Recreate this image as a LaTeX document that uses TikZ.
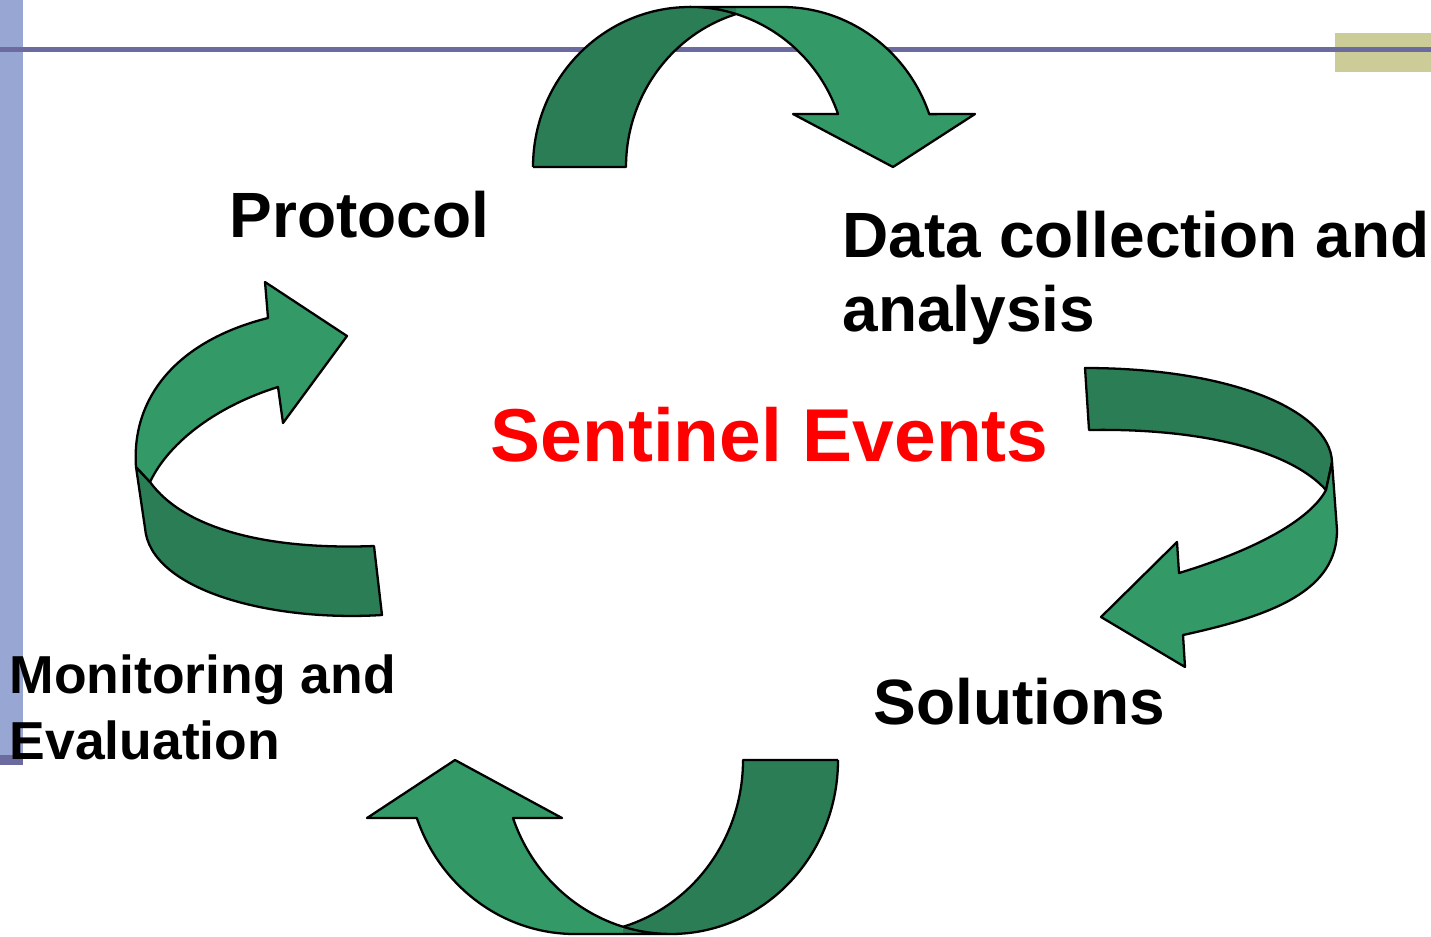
\documentclass[tikz,border=0pt]{standalone}
\usepackage{fontspec}
\setmainfont{Liberation Sans}
\definecolor{BarBlue}{HTML}{97A6D2}
\definecolor{RuleBlue}{HTML}{6B6B9F}
\definecolor{Olive}{HTML}{CCCC99}
\definecolor{RibbonLight}{HTML}{339966}
\definecolor{RibbonDark}{HTML}{2A7D55}
\definecolor{TitleRed}{HTML}{FF0000}
\tikzset{
  ribbonlight/.style={fill=RibbonLight},
  ribbondark/.style={fill=RibbonDark},
  ribbonedge/.style={draw=black,line width=0.65pt,line join=round},
  steplabel/.style={font=\fontsize{18.2}{21}\selectfont\bfseries,text=black,anchor=base west,inner sep=0pt,align=left},
  smalllabel/.style={steplabel,font=\fontsize{15.2}{18.5}\selectfont\bfseries},
  titlelabel/.style={font=\fontsize{21.3}{25}\selectfont\bfseries,text=TitleRed,anchor=base west,inner sep=0pt}
}

\begin{document}
\begin{tikzpicture}[x=0.01cm,y=-0.01cm]
  \useasboundingbox (0,0) rectangle (1431,936);
  % slide decoration
  \fill[BarBlue] (0,0) rectangle (23,765);
  \fill[RuleBlue] (0,755) rectangle (23,765);
  \fill[Olive] (1335,33) rectangle (1431,72);
  \draw[RuleBlue,line width=0.045cm] (0,49.5) -- (1431,49.5);

  % top ribbon
  \fill[ribbonlight] (736,7) -- (782,7) arc[start angle=270,end angle=340.7,x radius=156,y radius=160]
    -- (975,114) -- (893,167) -- (793,114) -- (838,114)
    arc[start angle=340.7,end angle=287,x radius=157,y radius=160] -- cycle;
  \fill[ribbondark] (533,167) arc[start angle=180,end angle=270,x radius=157,y radius=160]
    -- (736,7) -- (736,14) arc[start angle=252.8,end angle=180,x radius=156,y radius=160] -- cycle;
  \draw[ribbonedge] (533,167) arc[start angle=180,end angle=270,x radius=157,y radius=160]
    -- (782,7) arc[start angle=270,end angle=340.7,x radius=156,y radius=160]
    -- (975,114) -- (893,167) -- (793,114) -- (838,114)
    arc[start angle=340.7,end angle=270,x radius=157,y radius=160];
  \draw[ribbonedge] (533,167) -- (626,167) arc[start angle=180,end angle=252.8,x radius=156,y radius=160];

  % right ribbon
  \filldraw[ribbondark,ribbonedge] (1085,368) .. controls (1230,368) and (1330,410) .. (1332,462)
    -- (1326,490) .. controls (1290,450) and (1200,428) .. (1089,430) -- cycle;
  \filldraw[ribbonlight,ribbonedge] (1332,462) -- (1337,530) .. controls (1337,590) and (1275,615) .. (1183,635)
    -- (1185,667) -- (1101,617) -- (1177,542) -- (1179,573)
    .. controls (1255,550) and (1310,520) .. (1326,490) -- cycle;

  % bottom ribbon
  \fill[ribbonlight] (623,934) -- (575,934) arc[start angle=90,end angle=160.5,x radius=167.8,y radius=174]
    -- (367,818) -- (455,760) -- (562,818) -- (513,818)
    arc[start angle=160.5,end angle=106.7,x radius=167.3,y radius=174] -- cycle;
  \fill[ribbondark] (838,760) arc[start angle=0,end angle=90,x radius=167.3,y radius=174]
    -- (623,934) -- (623,927) arc[start angle=73.3,end angle=0,x radius=167.8,y radius=174] -- cycle;
  \draw[ribbonedge] (838,760) arc[start angle=0,end angle=90,x radius=167.3,y radius=174]
    -- (575,934) arc[start angle=90,end angle=160.5,x radius=167.8,y radius=174]
    -- (367,818) -- (455,760) -- (562,818) -- (513,818)
    arc[start angle=160.5,end angle=90,x radius=167.3,y radius=174];
  \draw[ribbonedge] (838,760) -- (743,760) arc[start angle=0,end angle=73.3,x radius=167.8,y radius=174];

  % left ribbon
  \filldraw[ribbondark,ribbonedge] (382,615) .. controls (270,622) and (150,590) .. (145,528)
    -- (136,467) -- (150,482) .. controls (185,530) and (270,550) .. (374,546) -- cycle;
  \filldraw[ribbonlight,ribbonedge] (136,467) .. controls (131,395) and (180,340) .. (268,318)
    -- (265,282) -- (347,336) -- (283,423) -- (278,387)
    .. controls (220,405) and (170,440) .. (150,482) -- cycle;

  % labels (base of a two-line label is its last line)
  \node[steplabel] (protocol) at (229,237) {Protocol};
  \node[steplabel] (datacoll) at (842,331) {Data collection and\\analysis};
  \node[titlelabel] (sentinel) at (490,461) {Sentinel Events};
  \node[steplabel] (solutions) at (873,724) {Solutions};
  \node[smalllabel] (monitor) at (9,759) {Monitoring and\\Evaluation};
\end{tikzpicture}
\end{document}
